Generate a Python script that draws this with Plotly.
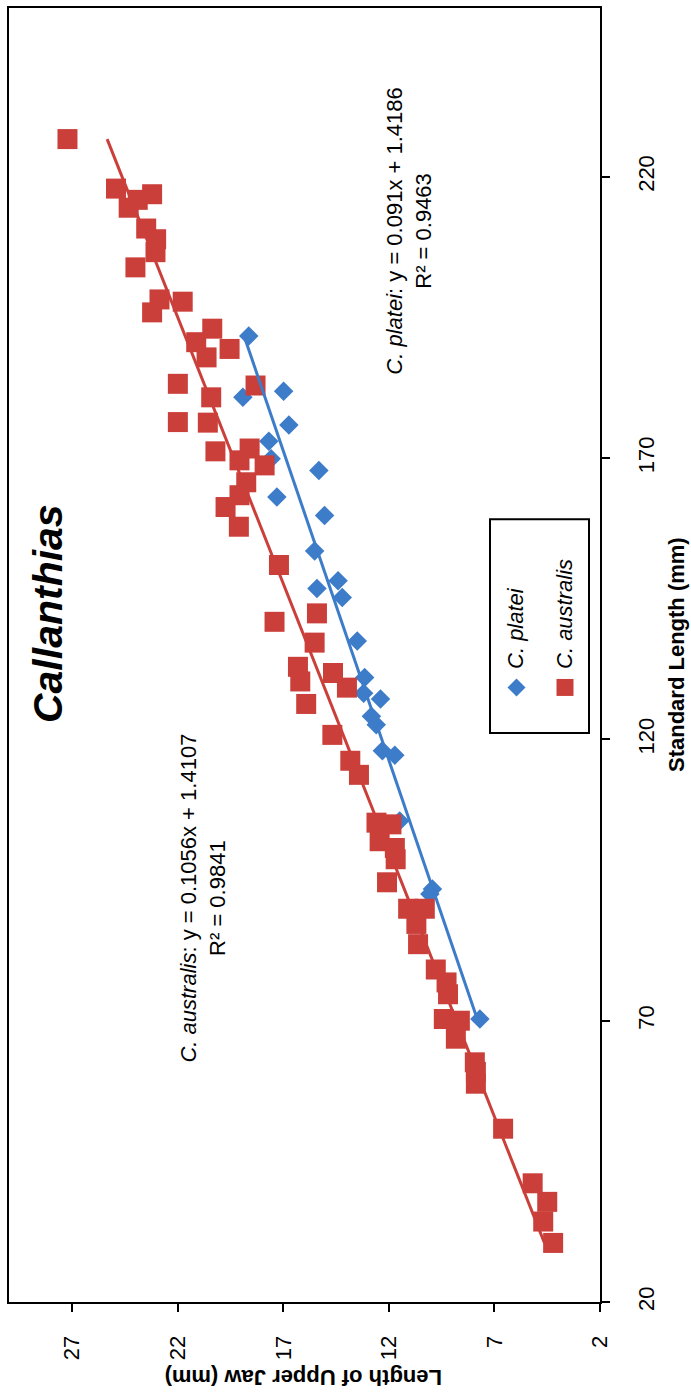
import plotly.graph_objects as go

# ---- data (x = Standard Length mm, y = Length of Upper Jaw mm) ----
platei_sl = [191.7, 180.8, 181.9, 175.9, 173.0, 169.9, 167.8, 163.1, 159.8, 153.5,
             146.8, 148.2, 145.2, 137.5, 131.0, 128.2, 127.2, 124.1, 122.6, 118.0,
             117.2, 105.5, 93.4, 92.5, 70.3]
platei_uj = [18.64, 18.92, 16.99, 16.74, 17.69, 17.58, 15.32, 17.31, 15.05, 15.52,
             15.41, 14.41, 14.21, 13.50, 13.15, 13.20, 12.40, 12.83, 12.60, 12.31,
             11.72, 11.49, 9.94, 10.06, 7.69]

australis_sl = [226.7, 217.9, 216.9, 214.5, 215.9, 210.8, 208.9, 206.6, 203.9, 198.2,
                195.9, 197.8, 193.0, 190.6, 189.4, 187.9, 183.2, 180.8, 182.9, 176.4,
                176.3, 171.2, 171.7, 169.6, 168.7, 165.7, 163.4, 161.3, 157.8, 151.0,
                140.9, 142.4, 137.2, 132.9, 130.3, 131.8, 129.2, 126.3, 120.8, 116.2,
                113.7, 105.2, 104.9, 101.9, 100.7, 98.7, 94.6, 89.9, 89.9, 87.2,
                83.6, 79.1, 76.8, 74.7, 70.3, 70.0, 66.8, 62.6, 60.9, 58.8,
                50.8, 41.1, 37.8, 34.3, 30.5]
australis_uj = [27.23, 24.93, 23.22, 24.33, 23.90, 23.50, 23.03, 23.06, 24.01, 22.87,
                23.22, 21.77, 20.37, 21.13, 19.55, 20.64, 22.00, 20.42, 18.32, 22.00,
                20.58, 20.22, 18.60, 19.08, 17.89, 18.76, 19.08, 19.74, 19.11, 17.21,
                17.42, 15.41, 15.52, 16.31, 16.20, 14.65, 13.99, 15.92, 14.68, 13.83,
                13.42, 12.59, 11.88, 12.44, 11.72, 11.68, 12.09, 11.09, 10.30, 10.70,
                10.62, 9.78, 9.27, 9.20, 9.40, 8.64, 8.83, 7.93, 7.88, 7.88,
                6.59, 5.19, 4.50, 4.69, 4.22]

# trendline coefficients (from the chart's equations)
platei_fit = (0.091, 1.4186, 0.9463)
australis_fit = (0.1056, 1.4107, 0.9841)

sl_ticks = [20, 70, 120, 170, 220]
uj_ticks = [2, 7, 12, 17, 22, 27]

BLUE = "#3D7CC9"
RED = "#CB3F3A"
FONT = "Liberation Sans, Arial, sans-serif"

W, H = 691, 1397
L, R, T, B = 9, 600, 6, 1302  # plot area in px


def px(x):
    return (x - L) / (R - L)


def py(y):
    return (B - y) / (B - T)


def trend(sl, fit):
    lo, hi = min(sl), max(sl)
    return [lo, hi], [fit[0] * lo + fit[1], fit[0] * hi + fit[1]]


fig = go.Figure()
# chart is rotated: horizontal = upper jaw (reversed), vertical = standard length
fig.add_trace(go.Scatter(x=platei_uj, y=platei_sl, mode="markers",
                         marker=dict(symbol="diamond", size=15, color=BLUE),
                         showlegend=False))
fig.add_trace(go.Scatter(x=australis_uj, y=australis_sl, mode="markers",
                         marker=dict(symbol="square", size=20, color=RED),
                         showlegend=False))
tx, ty = trend(platei_sl, platei_fit)
fig.add_trace(go.Scatter(x=ty, y=tx, mode="lines", line=dict(color=BLUE, width=3),
                         showlegend=False))
tx, ty = trend(australis_sl, australis_fit)
fig.add_trace(go.Scatter(x=ty, y=tx, mode="lines", line=dict(color=RED, width=3),
                         showlegend=False))

axis_common = dict(showgrid=False, zeroline=False, showline=True, linecolor="black",
                   linewidth=2, mirror=True, ticks="outside", ticklen=8,
                   tickcolor="black", tickwidth=2, tickangle=-90,
                   tickfont=dict(family=FONT, size=22, color="black"))

fig.update_xaxes(range=[30, 2], tickvals=uj_ticks, ticklabelstandoff=15, **axis_common)
fig.update_yaxes(range=[20, 250], tickvals=sl_ticks, side="right",
                 ticklabelstandoff=18, **axis_common)

ann = []
# title
ann.append(dict(text="<b><i>Callanthias</i></b>", x=px(48), y=py(613), textangle=-90,
                font=dict(family=FONT, size=41, color="black")))
# equations
ann.append(dict(text="<i>C. platei</i>: y = %sx + %s<br>R² = %s" % platei_fit,
                x=px(409), y=py(230), textangle=-90,
                font=dict(family=FONT, size=22, color="black")))
ann.append(dict(text="<i>C. australis</i>: y = %sx + %s<br>R² = %s" % australis_fit,
                x=px(203), y=py(898), textangle=-90,
                font=dict(family=FONT, size=22, color="black")))
# axis titles
ann.append(dict(text="<b>Standard Length (mm)</b>", x=px(676), y=py(654), textangle=-90,
                font=dict(family=FONT, size=22, color="black")))
ann.append(dict(text="<b>Length of Upper Jaw (mm)</b>", x=px(304), y=py(1377),
                textangle=180, font=dict(family=FONT, size=22, color="black")))
# legend texts
ann.append(dict(text="<i>C. platei</i>", x=px(516), y=py(670), textangle=-90,
                yanchor="bottom", font=dict(family=FONT, size=22, color="black")))
ann.append(dict(text="<i>C. australis</i>", x=px(565), y=py(670), textangle=-90,
                yanchor="bottom", font=dict(family=FONT, size=22, color="black")))
for a in ann:
    a.update(xref="paper", yref="paper", showarrow=False)
    a.setdefault("xanchor", "center")
    a.setdefault("yanchor", "middle")

shapes = []
# legend box
shapes.append(dict(type="rect", xref="paper", yref="paper", x0=px(490), x1=px(589),
                   y0=py(732), y1=py(518), line=dict(color="black", width=2),
                   fillcolor="white", layer="above"))
# legend swatches
cx, cy, r = 516.5, 686.5, 9
shapes.append(dict(type="path", xref="paper", yref="paper",
                   path="M %f %f L %f %f L %f %f L %f %f Z" % (
                       px(cx - r), py(cy), px(cx), py(cy - r),
                       px(cx + r), py(cy), px(cx), py(cy + r)),
                   fillcolor=BLUE, line=dict(width=0), layer="above"))
cx, cy, s = 565, 686.5, 8.5
shapes.append(dict(type="rect", xref="paper", yref="paper",
                   x0=px(cx - s), x1=px(cx + s), y0=py(cy + s), y1=py(cy - s),
                   fillcolor=RED, line=dict(width=0), layer="above"))

fig.update_layout(width=W, height=H, autosize=False,
                  margin=dict(l=L, r=W - R, t=T, b=H - B, pad=0),
                  paper_bgcolor="white", plot_bgcolor="white",
                  annotations=ann, shapes=shapes, showlegend=False)

fig.write_html("out.html", config={"displayModeBar": False},
               post_script="document.body.style.margin='0px';"
                           "document.body.style.overflow='hidden';")
